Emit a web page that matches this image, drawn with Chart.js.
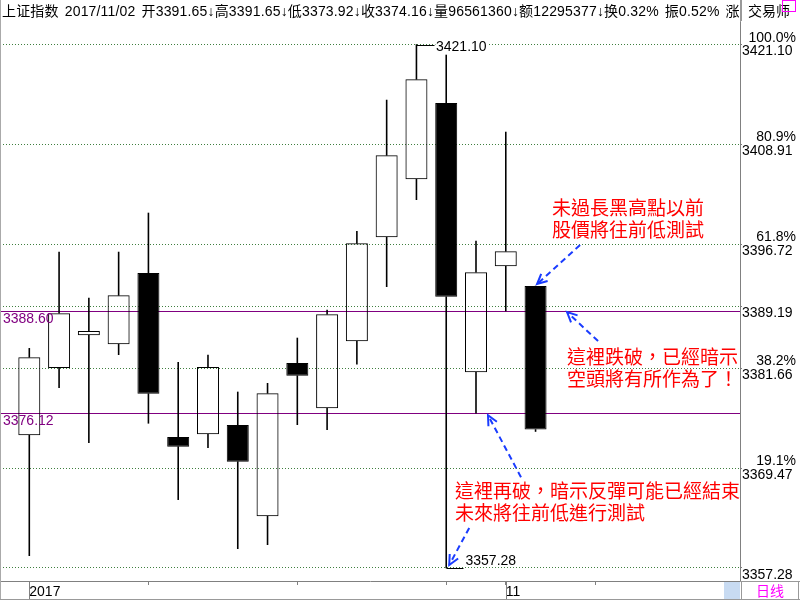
<!DOCTYPE html>
<html><head><meta charset="utf-8">
<script src="https://cdn.jsdelivr.net/npm/chart.js@4.4.0/dist/chart.umd.min.js"></script>
<style>
html,body{margin:0;padding:0;background:#fff;width:800px;height:600px;overflow:hidden;}
#wrap{position:relative;width:800px;height:600px;}
canvas{position:absolute;left:0;top:0;}
.abs{position:absolute;}
#hdr{left:2px;top:1px;width:738px;height:20px;overflow:hidden;font:14px "Liberation Sans","Noto Sans CJK SC",sans-serif;line-height:20px;white-space:nowrap;color:#000;letter-spacing:0.17px;word-spacing:2px;}
.note{font:19px "Noto Sans CJK TC",sans-serif;line-height:22px;color:#ff0000;white-space:pre;}
#jys{left:741px;top:0;width:57px;height:21px;border-left:1px solid #999;font:14px "Noto Sans CJK SC",sans-serif;line-height:21px;padding-left:6px;box-sizing:border-box;color:#000;}
#mag{left:782px;top:0;width:14px;height:12px;border:1px solid #ff00ff;box-sizing:border-box;}
#rx{left:741px;top:582px;width:57px;height:17px;border-left:1px solid #999;font:14px "Noto Sans CJK SC",sans-serif;line-height:17px;text-align:center;color:#ff00ff;box-sizing:border-box;}
#blue{left:724px;top:582px;width:16px;height:17px;background:#c8dbf2;}
</style></head>
<body><div id="wrap">
<canvas id="c" width="800" height="600"></canvas>
<div id="hdr" class="abs"></div>
<div id="jys" class="abs">交易师</div>
<div id="mag" class="abs"></div>
<div id="blue" class="abs"></div>
<div id="rx" class="abs">日线</div>
<div class="abs" style="left:0;top:0;width:1px;height:600px;background:#aaa"></div>
<div class="abs" style="left:740px;top:0;width:1px;height:22px;background:#999"></div>
<div class="abs" style="left:740px;top:581px;width:60px;height:1px;background:#999"></div>
<div class="abs" style="left:0;top:599px;width:800px;height:1px;background:#999"></div>
<div class="abs" style="left:798px;top:581px;width:1px;height:19px;background:#999"></div>
<div class="abs note" style="left:552px;top:196px">未過長黑高點以前
股價將往前低測試</div>
<div class="abs note" style="left:567px;top:345px">這裡跌破，已經暗示
空頭將有所作為了！</div>
<div class="abs note" style="left:455px;top:479px">這裡再破，暗示反彈可能已經結束
未來將往前低進行測試</div>
</div>
<script>
// ---- data ----
const dates  = ['10/10','10/11','10/12','10/13','10/16','10/17','10/18','10/19','10/20','10/23','10/24','10/25','10/26','10/27','10/30','10/31','11/01','11/02'];
const opens  = [3373.46,3381.66,3385.65,3384.55,3393.24,3373.25,3373.58,3374.71,3363.58,3382.27,3376.75,3384.92,3397.60,3404.67,3413.97,3381.14,3394.06,3391.65];
const highs  = [3384.06,3395.80,3390.20,3395.80,3400.56,3382.36,3383.25,3378.74,3379.80,3385.32,3388.73,3398.33,3414.33,3421.10,3419.82,3397.14,3410.43,3391.65];
const lows   = [3358.78,3379.26,3372.56,3383.28,3374.92,3365.61,3371.95,3359.63,3360.12,3374.75,3374.14,3382.11,3391.57,3402.18,3357.28,3376.15,3388.61,3373.92];
const closes = [3382.97,3388.33,3386.17,3390.52,3378.53,3372.07,3381.78,3370.24,3378.58,3380.72,3388.21,3396.86,3407.59,3416.86,3390.35,3393.33,3395.89,3374.16];
const levelValues   = [3421.10,3408.91,3396.72,3389.19,3381.66,3369.47,3357.28];
const levelPercents = ['100.0%','80.9%','61.8%','','38.2%','19.1%',''];
const lineLevels    = [3388.60,3376.12];
const xTickValues   = [1,5,10,15,17,20];
const xTickLabels   = {1:'2017',17:'11'};
const headerName = '上证指数', headerDate = '2017/11/02';
const headerVol = '96561360', headerAmt = '12295377', headerTurn = '0.32%', headerAmp = '0.52%', headerChg = '-0.64%';

// ---- header ----
const L = opens.length - 1;
document.getElementById('hdr').textContent =
  headerName + ' ' + headerDate + ' 开' + opens[L].toFixed(2) + '↓高' + highs[L].toFixed(2) + '↓低' + lows[L].toFixed(2) +
  '↓收' + closes[L].toFixed(2) + '↓量' + headerVol + '↓额' + headerAmt + '↓换' + headerTurn + ' 振' + headerAmp + ' 涨幅' + headerChg;

// ---- scale ranges (layout) ----
const X_MIN = 0.0161, X_MAX = 24.865;
const Y_MIN = 3355.695, Y_MAX = 3423.843;
const FONT = '"Liberation Sans", Arial, sans-serif';

const idx = dates.map((d,i)=>i+1);
const bodies = idx.map((x,i)=>({x, y:[opens[i], closes[i]]}));
const upper  = idx.map((x,i)=>({x, y:[Math.max(opens[i],closes[i]), highs[i]]}));
const lower  = idx.map((x,i)=>({x, y:[lows[i], Math.min(opens[i],closes[i])]}));

function arrow(ctx,x1,y1,x2,y2){
  ctx.save();
  ctx.strokeStyle='#1a3cff'; ctx.lineWidth=2; ctx.setLineDash([6,4]);
  ctx.beginPath(); ctx.moveTo(x1,y1); ctx.lineTo(x2,y2); ctx.stroke();
  ctx.setLineDash([]);
  const a=Math.atan2(y2-y1,x2-x1), len=11, w=0.45;
  ctx.beginPath();
  ctx.moveTo(x2-len*Math.cos(a-w), y2-len*Math.sin(a-w));
  ctx.lineTo(x2,y2);
  ctx.lineTo(x2-len*Math.cos(a+w), y2-len*Math.sin(a+w));
  ctx.stroke();
  ctx.restore();
}

const levelLines = {
  id:'levelLines',
  beforeDatasetsDraw(chart){
    const {ctx, scales:{y}, chartArea:ca} = chart;
    ctx.save();
    ctx.strokeStyle='#800080'; ctx.lineWidth=1;
    lineLevels.forEach(v=>{
      const py = Math.round(y.getPixelForValue(v)) + 0.5;
      ctx.beginPath(); ctx.moveTo(ca.left, py); ctx.lineTo(ca.right, py); ctx.stroke();
    });
    ctx.restore();
  }
};

const overlay = {
  id:'overlay',
  afterDraw(chart){
    const {ctx, scales:{x,y}, chartArea:ca} = chart;
    ctx.save();
    ctx.font = '14px ' + FONT;
    ctx.fillStyle='#000'; ctx.textAlign='right'; ctx.textBaseline='alphabetic';
    levelValues.forEach((v,i)=>{ if(levelPercents[i]) ctx.fillText(levelPercents[i], 796, Math.round(y.getPixelForValue(v))-3); });
    ctx.textAlign='left'; ctx.textBaseline='top'; ctx.fillStyle='#800080';
    lineLevels.forEach(v=>ctx.fillText(v.toFixed(2), 3, Math.round(y.getPixelForValue(v))+1));
    let hi=0, lo=0;
    highs.forEach((v,i)=>{ if(v>highs[hi]) hi=i; });
    lows.forEach((v,i)=>{ if(v<lows[lo]) lo=i; });
    ctx.strokeStyle='#000'; ctx.lineWidth=1; ctx.fillStyle='#000';
    let xp = Math.round(x.getPixelForValue(hi+1))+0.5, yp = Math.round(y.getPixelForValue(highs[hi]))+0.5;
    ctx.beginPath(); ctx.moveTo(xp,yp); ctx.lineTo(xp+18,yp); ctx.stroke();
    let t = highs[hi].toFixed(2), tw = ctx.measureText(t).width;
    ctx.fillStyle='#fff'; ctx.fillRect(xp+19, yp-7, tw+2, 14);
    ctx.fillStyle='#000'; ctx.textBaseline='alphabetic'; ctx.fillText(t, xp+19.5, yp+5);
    xp = Math.round(x.getPixelForValue(lo+1))+0.5; yp = Math.round(y.getPixelForValue(lows[lo]))+0.5;
    ctx.beginPath(); ctx.moveTo(xp,yp); ctx.lineTo(xp+17,yp); ctx.stroke();
    ctx.fillText(lows[lo].toFixed(2), xp+19, yp-3.5);
    ctx.strokeStyle='#808080';
    Object.keys(xTickLabels).forEach(k=>{
      const px = Math.round(x.getPixelForValue(+k))+0.5;
      ctx.beginPath(); ctx.moveTo(px, ca.bottom); ctx.lineTo(px, 599); ctx.stroke();
    });
    const n = opens.length;
    const x18 = x.getPixelForValue(n), x16 = x.getPixelForValue(16), x15 = x.getPixelForValue(15);
    let tx = x18+1.5, ty = y.getPixelForValue(opens[n-1])-2;
    arrow(ctx, tx+43, ty-39, tx, ty);
    tx = x18+31.5; ty = y.getPixelForValue(lineLevels[0])+1;
    arrow(ctx, tx+31, ty+29, tx, ty);
    tx = x16+12; ty = y.getPixelForValue(lows[15])+2;
    arrow(ctx, tx+33, ty+62, tx, ty);
    tx = x15+3; ty = y.getPixelForValue(lows[14])-3;
    arrow(ctx, tx+20, ty-37, tx, ty);
    ctx.restore();
  }
};

new Chart(document.getElementById('c'), {
  type:'bar',
  data:{
    datasets:[
      { label:'body', data:bodies, order:0, grouped:false, barThickness:22, borderWidth:1, borderSkipped:false,
        borderColor:'#000', inflateAmount:0,
        backgroundColor: idx.map((x,i)=> closes[i]>=opens[i] ? 'rgba(255,255,255,0)' : '#000') },
      { label:'upper', data:upper, order:5, grouped:false, barThickness:1, borderWidth:0, backgroundColor:'#000', inflateAmount:0.3 },
      { label:'lower', data:lower, order:5, grouped:false, barThickness:1, borderWidth:0, backgroundColor:'#000', inflateAmount:0.3 }
    ]
  },
  options:{
    responsive:false, animation:false, devicePixelRatio:1,
    layout:{padding:{top:22,left:0,right:0,bottom:0}},
    plugins:{legend:{display:false}, tooltip:{enabled:false}},
    events:[],
    scales:{
      x:{ type:'linear', min:X_MIN, max:X_MAX, offset:false,
          afterBuildTicks:s=>{ s.ticks = xTickValues.map(v=>({value:v})); },
          afterFit:s=>{ s.height = 19; },
          ticks:{ callback:v=>xTickLabels[v]||'', autoSkip:false, maxRotation:0, align:'start', padding:-1,
                  font:{family:FONT,size:14}, color:'#000' },
          grid:{ drawOnChartArea:false, drawTicks:true, tickLength:4, tickColor:'#808080', offset:false },
          border:{ display:true, color:'#808080' } },
      y:{ type:'linear', position:'right', min:Y_MIN, max:Y_MAX,
          afterBuildTicks:s=>{ s.ticks = levelValues.map(v=>({value:v})); },
          afterFit:s=>{ s.width = 60; },
          ticks:{ callback:v=>Number(v).toFixed(2), autoSkip:false, padding:0, labelOffset:7,
                  font:{family:FONT,size:14}, color:'#000' },
          grid:{ color:'#3f7f3f', lineWidth:1, drawTicks:true, tickLength:2, tickColor:'#808080' },
          border:{ display:true, color:'#808080', width:1, dash:[1,2] } }
    }
  },
  plugins:[levelLines, overlay]
});
</script>
</body></html>
